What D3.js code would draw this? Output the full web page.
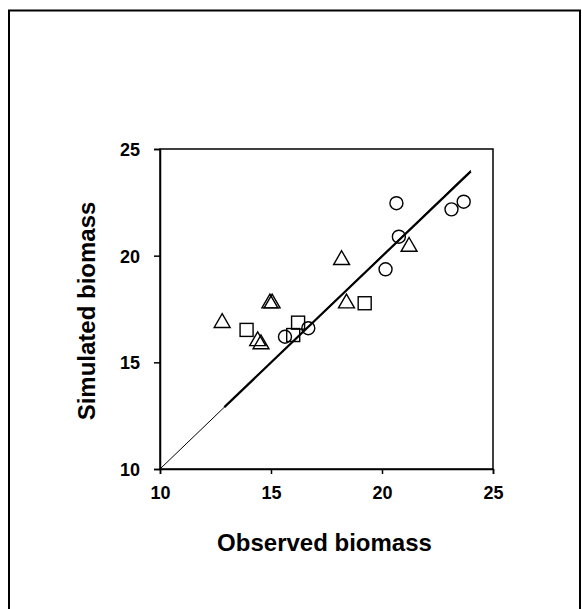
<!DOCTYPE html>
<html>
<head>
<meta charset="utf-8">
<script src="https://cdn.jsdelivr.net/npm/d3@7"></script>
<style>
  html, body { margin: 0; padding: 0; background: #fff; }
  svg { display: block; }
  text { font-family: "Liberation Sans", Arial, sans-serif; font-weight: bold; fill: #000; }
</style>
</head>
<body>
<script>
// Observed vs simulated biomass, three groups of sites
const circleObs = [20.65, 23.13, 23.68, 20.76, 20.16, 15.63, 16.68];
const circleSim = [22.46, 22.17, 22.53, 20.89, 19.36, 16.20, 16.60];

const triangleObs = [12.80, 14.95, 15.05, 14.40, 14.55, 18.18, 18.40, 21.22];
const triangleSim = [16.85, 17.77, 17.77, 16.00, 15.85, 19.80, 17.77, 20.42];

const squareObs = [13.90, 16.00, 16.22, 19.22];
const squareSim = [16.52, 16.28, 16.86, 17.77];

const tickValues = [10, 15, 20, 25];
const oneToOne = [[10, 10], [24, 24]];
const fitLine = [[12.9, 12.9], [24, 23.95]];

const W = 582, H = 609;
const margin = { left: 160, top: 149, right: 89, bottom: 140 };

const svg = d3.select("body").append("svg")
  .attr("width", W).attr("height", H);

// outer frame (left, top, right)
svg.append("path")
  .attr("d", `M9,${H} L9,10.5 L580,10.5 L580,${H}`)
  .attr("fill", "none").attr("stroke", "#000").attr("stroke-width", 2);

const x = d3.scaleLinear().domain([10, 25]).range([margin.left, W - margin.right]);
const y = d3.scaleLinear().domain([10, 25]).range([H - margin.bottom, margin.top]);

// plot box
svg.append("rect")
  .attr("x", x(10)).attr("y", y(25))
  .attr("width", x(25) - x(10)).attr("height", y(10) - y(25))
  .attr("fill", "none").attr("stroke", "#000").attr("stroke-width", 1.5);

const xAxis = svg.append("g")
  .attr("transform", `translate(0,${y(10)})`)
  .call(d3.axisBottom(x).tickValues(tickValues).tickSize(5).tickPadding(12).tickFormat(d3.format("d")));
const yAxis = svg.append("g")
  .attr("transform", `translate(${x(10)},0)`)
  .call(d3.axisLeft(y).tickValues(tickValues).tickSize(6).tickPadding(14).tickFormat(d3.format("d")));

[xAxis, yAxis].forEach(g => {
  g.select(".domain").attr("stroke", "#000").attr("stroke-width", 1.5);
  g.selectAll(".tick line").attr("stroke", "#000").attr("stroke-width", 1.5);
  g.selectAll(".tick text").attr("font-size", 18).attr("font-family", "Liberation Sans, Arial, sans-serif").attr("font-weight", "bold");
});
yAxis.selectAll(".tick text").attr("dy", "0.36em");

// axis titles
svg.append("text")
  .attr("x", (x(10) + x(25)) / 2 - 2).attr("y", 551)
  .attr("text-anchor", "middle").attr("font-size", 24)
  .text("Observed biomass");
svg.append("text")
  .attr("transform", `translate(95,${(y(10) + y(25)) / 2 + 2}) rotate(-90)`)
  .attr("text-anchor", "middle").attr("font-size", 24)
  .text("Simulated biomass");

// 1:1 line and fitted line
const line = d3.line().x(d => x(d[0])).y(d => y(d[1]));
svg.append("path").attr("d", line(oneToOne))
  .attr("fill", "none").attr("stroke", "#000").attr("stroke-width", 1);
svg.append("path").attr("d", line(fitLine))
  .attr("fill", "none").attr("stroke", "#000").attr("stroke-width", 2.2);

const markStyle = sel => sel.attr("fill", "none").attr("stroke", "#000").attr("stroke-width", 1.4);

// circles
markStyle(svg.append("g").selectAll("circle")
  .data(d3.zip(circleObs, circleSim)).join("circle")
  .attr("cx", d => x(d[0])).attr("cy", d => y(d[1])).attr("r", 6.5));

// squares
const sq = 13;
markStyle(svg.append("g").selectAll("rect")
  .data(d3.zip(squareObs, squareSim)).join("rect")
  .attr("x", d => x(d[0]) - sq / 2).attr("y", d => y(d[1]) - sq / 2)
  .attr("width", sq).attr("height", sq));

// triangles
const tri = d3.symbol().type(d3.symbolTriangle).size(110);
markStyle(svg.append("g").selectAll("path")
  .data(d3.zip(triangleObs, triangleSim)).join("path")
  .attr("transform", d => `translate(${x(d[0])},${y(d[1])})`)
  .attr("d", tri));
</script>
</body>
</html>
